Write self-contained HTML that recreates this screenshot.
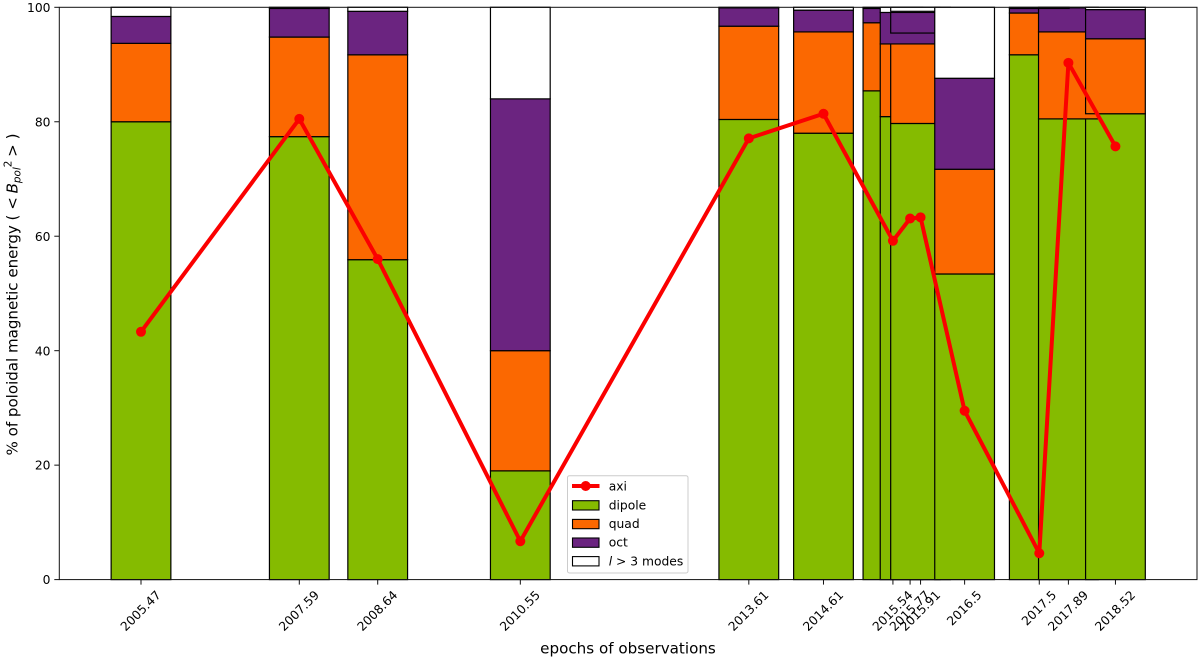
<!DOCTYPE html>
<html>
<head>
<meta charset="utf-8">
<title>Poloidal magnetic energy by epoch</title>
<style>
html,body{margin:0;padding:0;background:#fff;width:1200px;height:658px;overflow:hidden}
svg{display:block}
text{font-family:"DejaVu Sans","Liberation Sans",sans-serif;fill:#000}
</style>
</head>
<body>
<svg id="chart" xmlns="http://www.w3.org/2000/svg" width="1200" height="658" viewBox="0 0 1200 658">
  <rect x="0" y="0" width="1200" height="658" fill="#fff"/>
  <g id="bars"></g>
  <g id="axi"></g>
  <rect x="59.3" y="7.3" width="1137.7" height="572.3" fill="none" stroke="#111" stroke-width="1"/>
  <g id="ticks"></g>
  <text x="628" y="653.5" font-size="15.15" text-anchor="middle">epochs of observations</text>
  <text transform="translate(17.5,294.5) rotate(-90)" font-size="15.05" text-anchor="middle">% of poloidal magnetic energy ( &lt; <tspan font-style="italic" dx="-1">B</tspan><tspan font-style="italic" font-size="10.4" dy="3">pol</tspan><tspan font-size="10.4" dy="-9">2</tspan><tspan dy="6" dx="-1"> &gt; )</tspan></text>
  <g id="legend">
    <rect x="567.5" y="475.7" width="120.5" height="97.3" rx="2" fill="#fff" fill-opacity="0.85" stroke="#ccc" stroke-width="1"/>
    <g>
      <line x1="572" y1="486" x2="599.5" y2="486" stroke="#fb0000" stroke-width="4"/>
      <circle cx="585.7" cy="486" r="5" fill="#fb0000"/>
      <text x="608.7" y="490.5" font-size="12.3">axi</text>
    </g>
    <g>
      <rect x="572.5" y="500.7" width="26.5" height="9.3" fill="#85bb00" stroke="#000" stroke-width="1.1"/>
      <text x="608.7" y="509.5" font-size="12.3">dipole</text>
    </g>
    <g>
      <rect x="572.5" y="519.4" width="26.5" height="9.3" fill="#fb6801" stroke="#000" stroke-width="1.1"/>
      <text x="608.7" y="528" font-size="12.3">quad</text>
    </g>
    <g>
      <rect x="572.5" y="538" width="26.5" height="9.3" fill="#6b2480" stroke="#000" stroke-width="1.1"/>
      <text x="608.7" y="546.5" font-size="12.3">oct</text>
    </g>
    <g>
      <rect x="572.5" y="556.6" width="26.5" height="9.3" fill="#fff" stroke="#000" stroke-width="1.1"/>
      <text x="608.7" y="565.5" font-size="12.3"><tspan font-style="italic">l</tspan> &gt; 3 modes</text>
    </g>
  </g>
</svg>
<script>
const epochs = [2005.47,2007.59,2008.64,2010.55,2013.61,2014.61,2015.54,2015.77,2015.91,2016.5,2017.5,2017.89,2018.52];
const dipole = [80,77.4,55.9,19,80.4,78,85.4,80.9,79.7,53.4,91.7,80.5,81.4];
const quad = [13.7,17.4,35.8,21,16.3,17.7,11.9,12.7,15.8,18.3,7.3,15.2,13.1];
const oct = [4.7,5,7.6,44,3.2,3.8,2.5,5.5,3.8,15.9,0.8,4.2,5.1];
const axi = [43.3,80.5,56,6.7,77.1,81.4,59.2,63.1,63.3,29.5,4.6,90.3,75.7];
const yTicks = [0,20,40,60,80,100];
const xTickLabels = ["2005.47","2007.59","2008.64","2010.55","2013.61","2014.61","2015.54","2015.77","2015.91","2016.5","2017.5","2017.89","2018.52"];

const NS = 'http://www.w3.org/2000/svg';
const X = v => 141 + (v - 2005.47) * 74.67;
const Y = v => 579.6 - v * 5.723;
const barYears = 0.8;
const make = tag => document.createElementNS(NS, tag);
const setAll = (el, attrs) => { for (const k in attrs) el.setAttribute(k, attrs[k]); return el; };

const barsG = document.getElementById('bars');
const seriesList = [
  {name:'dipole', color:'#85bb00', base:i=>0, h:i=>dipole[i]},
  {name:'quad', color:'#fb6801', base:i=>dipole[i], h:i=>quad[i]},
  {name:'oct', color:'#6b2480', base:i=>dipole[i]+quad[i], h:i=>oct[i]},
  {name:'higher-modes', color:'#ffffff', base:i=>dipole[i]+quad[i]+oct[i], h:i=>100-dipole[i]-quad[i]-oct[i]}
];
seriesList.forEach(s => {
  epochs.forEach((ep, i) => {
    const r = make('rect');
    const yTop = Y(s.base(i) + s.h(i));
    const yBot = Y(s.base(i));
    setAll(r, {x:X(ep - barYears/2), y:yTop, width:X(ep + barYears/2) - X(ep - barYears/2), height:yBot - yTop, fill:s.color, stroke:'#000', 'stroke-width':1.2});
    
    
    barsG.appendChild(r);
  });
});

const axiG = document.getElementById('axi');
const line = make('polyline');
setAll(line, {points:epochs.map((ep,i)=>X(ep)+','+Y(axi[i])).join(' '), fill:'none', stroke:'#fb0000', 'stroke-width':4, 'stroke-linejoin':'round'});


axiG.appendChild(line);
epochs.forEach((ep, i) => {
  const c = make('circle');
  setAll(c, {cx:X(ep), cy:Y(axi[i]), r:5, fill:'#fb0000'});
  
  
  axiG.appendChild(c);
});

const ticksG = document.getElementById('ticks');
yTicks.forEach(v => {
  const t = make('line');
  setAll(t, {x1:54.3, x2:59.3, y1:Y(v), y2:Y(v), stroke:'#111', 'stroke-width':1});
  
  
  ticksG.appendChild(t);
  const l = make('text');
  setAll(l, {x:50.5, y:Y(v)+4.6, 'font-size':12.3, 'text-anchor':'end'});
  
  
  l.textContent = v;
  ticksG.appendChild(l);
});
epochs.forEach((ep, i) => {
  const t = make('line');
  setAll(t, {x1:X(ep), x2:X(ep), y1:579.6, y2:584.6, stroke:'#111', 'stroke-width':1});
  
  
  ticksG.appendChild(t);
  const l = make('text');
  setAll(l, {x:0, y:0, 'font-size':12.3, 'text-anchor':'middle', dy:'0.36em'});
  
  
  l.textContent = xTickLabels[i];
  ticksG.appendChild(l);
  const w = l.getComputedTextLength();
  const half = (w + 9.5) * Math.SQRT1_2 / 2;
  l.setAttribute('transform', 'translate(' + (X(ep) - 0.5) + ',' + (589.3 + half) + ') rotate(-45)');
});
</script>
</body>
</html>
